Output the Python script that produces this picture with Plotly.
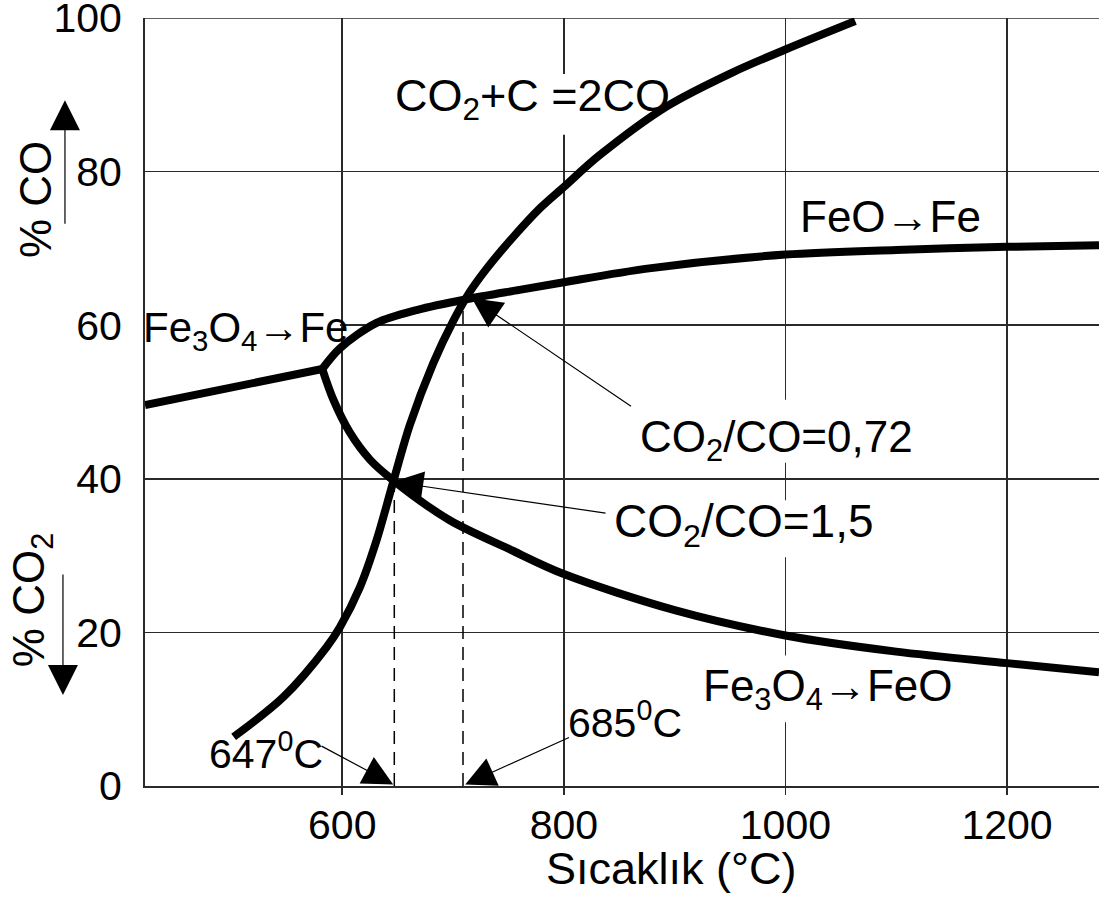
import plotly.graph_objects as go

# ---- data ----
fe3o4_fe_x = [422, 582]
fe3o4_fe_y = [49.6, 54.3]

feo_fe_x = [582, 598, 631, 668, 713, 760, 800, 877, 1000, 1100, 1200, 1283]
feo_fe_y = [54.3, 57.0, 60.3, 62.0, 63.4, 64.6, 65.6, 67.4, 69.2, 69.8, 70.2, 70.4]

fe3o4_feo_x = [582, 592, 607, 625, 646, 697, 750, 800, 900, 1000, 1100, 1200, 1283]
fe3o4_feo_y = [54.3, 50.3, 46.0, 42.5, 39.8, 34.6, 30.9, 27.6, 22.9, 19.6, 17.5, 16.0, 14.8]

boudouard_x = [502, 547, 586, 598, 616, 631, 646, 661, 682, 700, 715, 730, 752, 779, 800, 832, 893, 952, 1000, 1063]
boudouard_y = [6.4, 11.6, 18.1, 20.7, 25.9, 32.0, 39.6, 47.0, 55.0, 60.5, 64.3, 67.3, 71.1, 75.3, 78.0, 82.1, 88.5, 92.9, 95.9, 99.6]

t647 = 647
t685 = 709
y647 = 39.8
y685 = 63.4

x_ticks = [600, 800, 1000, 1200]
y_ticks = [0, 20, 40, 60, 80, 100]

FONT = "Liberation Sans, Arial, sans-serif"
BLACK = "#000000"
GRID = "#2a2a2a"

fig = go.Figure()

def curve(x, y):
    fig.add_trace(go.Scatter(x=x, y=y, mode="lines",
                             line=dict(color=BLACK, width=8, shape="spline", smoothing=0.9),
                             hoverinfo="skip", showlegend=False))

curve(fe3o4_fe_x, fe3o4_fe_y)
curve(feo_fe_x, feo_fe_y)
curve(fe3o4_feo_x, fe3o4_feo_y)
curve(boudouard_x, boudouard_y)

for tx, ty in [(t647, y647), (t685, y685)]:
    fig.add_trace(go.Scatter(x=[tx, tx], y=[0, ty], mode="lines",
                             line=dict(color=BLACK, width=1.5, dash="13px,8px"),
                             hoverinfo="skip", showlegend=False))

# top grid line at 100 (plotly drops grid lines lying on the plot edge)
fig.add_shape(type="line", xref="paper", yref="y", x0=0, x1=1, y0=100, y1=100,
              line=dict(color=GRID, width=1.5), layer="between")

# white boxes behind labels that interrupt the grid (between grid and traces)
boxes = [
    (639, 903, 84.8, 92.7),
    (865, 1121, 42.1, 50.3),
    (837, 1090, 29.8, 37.2),
    (930, 1149, 8.3, 17.0),
    (422, 598, 56.5, 62.0),
]
for x0, x1, y0, y1 in boxes:
    fig.add_shape(type="rect", xref="x", yref="y", x0=x0, x1=x1, y0=y0, y1=y1,
                  fillcolor="white", line=dict(width=0), layer="between")

def label(text, x, y, size=44, **kw):
    fig.add_annotation(text=text, x=x, y=y, xref="x", yref="y", showarrow=False,
                       font=dict(family=FONT, size=size, color=BLACK),
                       xanchor="center", yanchor="middle", **kw)

label("CO<sub>2</sub>+C =2CO", 772, 89.5, size=45)
label("FeO→Fe", 1095, 74.1)
label("Fe<sub>3</sub>O<sub>4</sub>→Fe", 513, 59.3, size=42)
label("CO<sub>2</sub>/CO=0,72", 992, 45.0)
label("CO<sub>2</sub>/CO=1,5", 963, 34.0, size=46)
label("Fe<sub>3</sub>O<sub>4</sub>→FeO", 1038, 12.6, size=44)
label("685<sup>0</sup>C", 855, 8.6, size=41)
label("647<sup>0</sup>C", 531, 4.6, size=41)

def arrow(x_tip, y_tip, x_tail, y_tail):
    fig.add_annotation(text="", x=x_tip, y=y_tip, xref="x", yref="y",
                       ax=x_tail, ay=y_tail, axref="x", ayref="y",
                       showarrow=True, arrowhead=2, arrowsize=5, arrowwidth=1.2,
                       arrowcolor=BLACK)

arrow(717, 63.5, 862, 49.3)
arrow(646, 39.6, 839, 35.5)
arrow(646, 0.2, 580, 5.3)
arrow(711, 0.2, 806, 6.4)

# left-side axis labels with arrows
fig.add_annotation(text="% CO", x=-0.1153, y=0.763, xref="paper", yref="paper",
                   showarrow=False, textangle=-90,
                   font=dict(family=FONT, size=44, color=BLACK),
                   xanchor="center", yanchor="middle")
fig.add_annotation(text="% CO<sub>2</sub>", x=-0.1184, y=0.242, xref="paper", yref="paper",
                   showarrow=False, textangle=-90,
                   font=dict(family=FONT, size=44, color=BLACK),
                   xanchor="center", yanchor="middle")
fig.add_annotation(text="", x=-0.0839, y=0.893, xref="paper", yref="paper",
                   ax=0, ay=125, showarrow=True, arrowhead=2, arrowsize=5,
                   arrowwidth=1.2, arrowcolor=BLACK)
fig.add_annotation(text="", x=-0.0860, y=0.1185, xref="paper", yref="paper",
                   ax=0, ay=-122, showarrow=True, arrowhead=2, arrowsize=5,
                   arrowwidth=1.2, arrowcolor=BLACK)

# x-axis title
fig.add_annotation(text="Sıcaklık (°C)", x=0.5524, y=-0.1068, xref="paper", yref="paper",
                   showarrow=False, font=dict(family=FONT, size=45, color=BLACK),
                   xanchor="center", yanchor="middle")

fig.update_layout(
    width=1099, height=897,
    margin=dict(l=145, r=0, t=18, b=111, autoexpand=False),
    plot_bgcolor="white", paper_bgcolor="white",
    showlegend=False,
    font=dict(family=FONT, color=BLACK),
    xaxis=dict(range=[422, 1283], tickvals=x_ticks, ticktext=[str(v) for v in x_ticks],
               showgrid=True, gridcolor=GRID, gridwidth=1.5,
               showline=True, linecolor=GRID, linewidth=2,
               ticks="outside", ticklen=7, tickcolor=GRID, tickwidth=1.5,
               ticklabelstandoff=-5, ticklabeloverflow="allow",
               tickfont=dict(family=FONT, size=41, color=BLACK),
               zeroline=False, fixedrange=True),
    yaxis=dict(range=[0, 100], tickvals=y_ticks, ticktext=[str(v) for v in y_ticks],
               showgrid=True, gridcolor=GRID, gridwidth=1.5,
               showline=True, linecolor=GRID, linewidth=2,
               ticks="", ticklabelstandoff=13, ticklabeloverflow="allow",
               tickfont=dict(family=FONT, size=41, color=BLACK),
               zeroline=False, fixedrange=True),
)

# remove the default page margin so the 1099x897 figure fills the window exactly
fig.write_html("out.html",
               config={"displayModeBar": False, "staticPlot": True},
               post_script="document.body.style.margin='0';"
                           "document.documentElement.style.overflow='hidden';")
